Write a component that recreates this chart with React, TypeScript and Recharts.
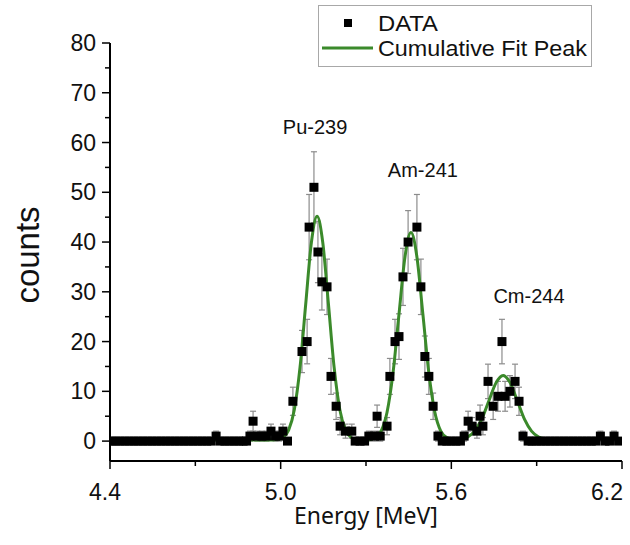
import React from "react";
import {
  ComposedChart,
  XAxis,
  YAxis,
  Scatter,
  Line,
  ErrorBar,
  Legend,
  ReferenceDot,
} from "recharts";

// measured spectrum (energy in MeV, counts per channel, statistical error)
const dataEnergy = [
  4.405, 4.42, 4.436, 4.452, 4.468, 4.484, 4.5, 4.516, 4.532, 4.548,
  4.564, 4.58, 4.596, 4.612, 4.628, 4.644, 4.66, 4.676, 4.692, 4.708,
  4.724, 4.74, 4.756, 4.773, 4.788, 4.804, 4.82, 4.836, 4.852, 4.868,
  4.88, 4.892, 4.903, 4.918, 4.934, 4.95, 4.966, 4.982, 4.995, 5.008,
  5.024, 5.043, 5.075, 5.093, 5.1, 5.117, 5.131, 5.145, 5.163, 5.177,
  5.195, 5.209, 5.228, 5.25, 5.262, 5.279, 5.295, 5.31, 5.33, 5.339,
  5.35, 5.374, 5.384, 5.402, 5.416, 5.43, 5.448, 5.479, 5.493, 5.507,
  5.521, 5.536, 5.553, 5.568, 5.584, 5.6, 5.616, 5.632, 5.645, 5.659,
  5.673, 5.69, 5.701, 5.711, 5.729, 5.747, 5.764, 5.778, 5.789, 5.806,
  5.824, 5.838, 5.852, 5.87, 5.884, 5.9, 5.916, 5.932, 5.948, 5.964,
  5.98, 5.996, 6.012, 6.028, 6.044, 6.06, 6.076, 6.092, 6.108, 6.124,
  6.14, 6.156, 6.172, 6.188,
];
const dataCounts = [
  0, 0, 0, 0, 0, 0, 0, 0, 0, 0,
  0, 0, 0, 0, 0, 0, 0, 0, 0, 0,
  0, 0, 0, 1, 0, 0, 0, 0, 0, 0,
  0, 1, 4, 1, 1, 1, 2, 1, 1, 2,
  0, 8, 18, 20, 43, 51, 38, 32, 31, 13,
  7, 3, 2, 2, 0, 0, 0, 1, 1, 5,
  1, 3, 13, 20, 21, 33, 40, 43, 31, 17,
  13, 7, 1, 0, 0, 0, 0, 0, 1, 4,
  3, 2, 5, 3, 12, 7, 9, 20, 9, 10,
  12, 8, 1, 0, 0, 0, 0, 0, 0, 0,
  0, 0, 0, 0, 0, 0, 0, 0, 0, 1,
  0, 0, 1, 0,
];
const dataError = [
  0, 0, 0, 0, 0, 0, 0, 0, 0, 0,
  0, 0, 0, 0, 0, 0, 0, 0, 0, 0,
  0, 0, 0, 1, 0, 0, 0, 0, 0, 0,
  0, 1, 2, 1, 1, 1, 1.41, 1, 1, 1.41,
  0, 2.83, 4.24, 4.47, 6.56, 7.14, 6.16, 5.66, 5.57, 3.61,
  2.65, 1.73, 1.41, 1.41, 0, 0, 0, 1, 1, 2.24,
  1, 1.73, 3.61, 4.47, 4.58, 5.74, 6.32, 6.56, 5.57, 4.12,
  3.61, 2.65, 1, 0, 0, 0, 0, 0, 1, 2,
  1.73, 1.41, 2.24, 1.73, 3.46, 2.65, 3, 4.47, 3, 3.16,
  3.46, 2.83, 1, 0, 0, 0, 0, 0, 0, 0,
  0, 0, 0, 0, 0, 0, 0, 0, 0, 1,
  0, 0, 1, 0,
];

// cumulative fit curve
const fitEnergy = [
  4.62, 4.8, 4.95, 4.988, 5.008, 5.028, 5.048, 5.068, 5.088, 5.108,
  5.128, 5.148, 5.168, 5.188, 5.208, 5.228, 5.248, 5.268, 5.3, 5.332,
  5.353, 5.374, 5.395, 5.416, 5.437, 5.458, 5.479, 5.5, 5.521, 5.542,
  5.563, 5.584, 5.61, 5.632, 5.657, 5.682, 5.707, 5.732, 5.757, 5.782,
  5.807, 5.832, 5.857, 5.882, 5.907, 5.932, 5.96, 6.1,
];
const fitCounts = [
  0.2, 0.2, 0.2, 0.3, 0.7, 2.2, 6.3, 14.8, 27.5, 39.9,
  45.2, 39.9, 27.5, 14.8, 6.3, 2.2, 0.7, 0.3, 0.2, 0.7,
  2.0, 5.8, 13.7, 25.5, 37.0, 41.9, 37.0, 25.5, 13.7, 5.8,
  2.0, 0.7, 0.3, 0.4, 0.8, 2.0, 4.4, 8.1, 11.7, 13.2,
  11.7, 8.1, 4.4, 2.0, 0.8, 0.35, 0.2, 0.2,
];

const xTicks = [4.4, 4.7, 5.0, 5.3, 5.6, 5.9, 6.2];
const xMajorTicks = [4.4, 5.0, 5.6, 6.2];
const yTicks = [0, 5, 10, 15, 20, 25, 30, 35, 40, 45, 50, 55, 60, 65, 70, 75, 80];

const peakNames = ["Pu-239", "Am-241", "Cm-244"];
const peakLabelEnergy = [5.121, 5.5, 5.873];
const peakLabelCounts = [63.1, 54.5, 29.2];

const points = dataEnergy.map((e, i) => ({ e, counts: dataCounts[i], err: dataError[i] }));
const fit = fitEnergy.map((e, i) => ({ e, fit: fitCounts[i] }));

const FIT_GREEN = "#3b8a2b";
const AXIS_FONT = "'Liberation Sans', Arial, sans-serif";
const MAJOR = 8;
const MINOR = 5;
const Y_GAP = 6;
const X_GAP = 12;

function YTick({ x, y, payload }: any) {
  const major = payload.value % 10 === 0;
  const ax = x + Y_GAP + MAJOR;
  return (
    <g>
      <line x1={ax - (major ? MAJOR : MINOR)} x2={ax} y1={y} y2={y} stroke="#000" strokeWidth={1.5} />
      {major && (
        <text x={x} y={y} dy={8} textAnchor="end" fontSize={23} fontFamily={AXIS_FONT} fill="#111">
          {payload.value}
        </text>
      )}
    </g>
  );
}

function XTick({ x, y, payload }: any) {
  const major = xMajorTicks.includes(payload.value);
  const ay = y - X_GAP - MAJOR;
  const first = payload.value === xTicks[0];
  const last = payload.value === xTicks[xTicks.length - 1];
  return (
    <g>
      <line x1={x} x2={x} y1={ay} y2={ay + (major ? MAJOR : MINOR)} stroke="#000" strokeWidth={1.5} />
      {major && (
        <text
          x={x}
          y={y}
          dx={first ? -5 : last ? -15 : 0}
          dy={19}
          textAnchor="middle"
          fontSize={23}
          fontFamily={AXIS_FONT}
          fill="#111"
        >
          {payload.value.toFixed(1)}
        </text>
      )}
    </g>
  );
}

function Square({ cx, cy }: any) {
  return <rect x={cx - 4.5} y={cy - 4.5} width={9} height={9} fill="#000" />;
}

function LegendBox() {
  return (
    <svg width={274} height={62} style={{ display: "block", background: "#fff" }}>
      <rect x={0.5} y={0.5} width={273} height={61} fill="#fff" stroke="#a8a8a8" />
      <rect x={26} y={14} width={8} height={8} fill="#000" />
      <text x={60} y={26} fontSize={22} fontFamily={AXIS_FONT} fill="#111" textLength={60} lengthAdjust="spacingAndGlyphs">
        DATA
      </text>
      <line x1={4} x2={55} y1={43} y2={43} stroke={FIT_GREEN} strokeWidth={3} />
      <text x={60} y={51} fontSize={22} fontFamily={AXIS_FONT} fill="#111" textLength={209} lengthAdjust="spacingAndGlyphs">
        Cumulative Fit Peak
      </text>
    </svg>
  );
}

export default function App() {
  return (
    <div style={{ position: "absolute", left: 0, top: 0, width: 630, height: 545, background: "#fff" }}>
      <ComposedChart width={630} height={545} margin={{ top: 43, right: 8, bottom: 40, left: 0 }}>
        <XAxis
          type="number"
          dataKey="e"
          domain={[4.4, 6.2]}
          ticks={xTicks}
          interval={0}
          height={44}
          tickSize={MAJOR}
          tickMargin={X_GAP}
          tickLine={false}
          tick={<XTick />}
          axisLine={{ stroke: "#000", strokeWidth: 2 }}
          allowDataOverflow
          label={{
            value: "Energy [MeV]",
            position: "bottom",
            offset: 3,
            fontSize: 23,
            fontFamily: "'Noto Sans', sans-serif",
            fill: "#111",
          }}
        />
        <YAxis
          type="number"
          domain={[-4, 80]}
          ticks={yTicks}
          interval={0}
          width={110}
          tickSize={MAJOR}
          tickMargin={Y_GAP}
          tickLine={false}
          tick={<YTick />}
          axisLine={{ stroke: "#000", strokeWidth: 2 }}
          allowDataOverflow
          label={{
            value: "counts",
            angle: -90,
            position: "center",
            dx: -28,
            dy: 3,
            fontSize: 33,
            fontFamily: AXIS_FONT,
            fill: "#111",
          }}
        />
        <Legend
          layout="vertical"
          align="center"
          verticalAlign="middle"
          content={<LegendBox />}
          wrapperStyle={{ left: 318, top: 5, width: 274, height: 62 }}
        />
        <Scatter data={points} dataKey="counts" name="DATA" shape={<Square />} isAnimationActive={false}>
          <ErrorBar dataKey="err" direction="y" width={3} stroke="#8c8c8c" strokeWidth={1.2} />
        </Scatter>
        <Line
          data={fit}
          dataKey="fit"
          name="Cumulative Fit Peak"
          type="monotone"
          stroke={FIT_GREEN}
          strokeWidth={3}
          dot={false}
          activeDot={false}
          isAnimationActive={false}
        />
        {peakNames.map((name, i) => (
          <ReferenceDot
            key={name}
            x={peakLabelEnergy[i]}
            y={peakLabelCounts[i]}
            r={0}
            fill="none"
            stroke="none"
            ifOverflow="visible"
            label={{ value: name, position: "center", fontSize: 20, fontFamily: AXIS_FONT, fill: "#111" }}
          />
        ))}
      </ComposedChart>
    </div>
  );
}
